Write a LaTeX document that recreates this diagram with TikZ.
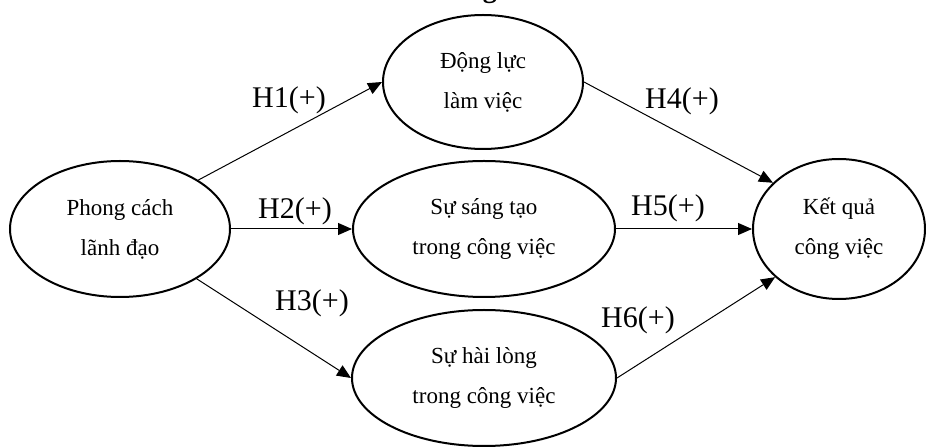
\documentclass[tikz,border=0pt]{standalone}
\usepackage{fontspec}
\setmainfont{Liberation Serif}
\usetikzlibrary{arrows.meta,shapes.geometric}

\begin{document}
\begin{tikzpicture}[x=0.5pt,y=-0.5pt,
	factor/.style={draw, ellipse, line width=1pt, inner sep=0pt, align=center, font=\fontsize{11.5}{20}\selectfont},
	hyp/.style={-{Triangle[length=7pt,width=6pt]}, line width=0.5pt},
	hlabel/.style={font=\fontsize{15}{18}\selectfont, inner sep=0pt}]
		\useasboundingbox (0,0) rectangle (926,448);
		% title, cut off by the page edge
		\node[anchor=base west, inner sep=0pt, font=\bfseries\fontsize{14}{16}\selectfont] (title) at (358,-2) {Mô hình nghiên cứu đề xuất};
		
		\node[factor, minimum width=110pt, minimum height=68pt] (lead) at (120,229) {Phong cách\\lãnh đạo};
		\node[factor, minimum width=100pt, minimum height=67pt] (mot) at (483,82) {Động lực\\làm việc};
		\node[factor, minimum width=131pt, minimum height=68pt] (st) at (484,229) {Sự sáng tạo\\trong công việc};
		\node[factor, minimum width=132pt, minimum height=68pt] (hl) at (484,378) {Sự hài lòng\\trong công việc};
		\node[factor, minimum width=86pt, minimum height=70pt] (kq) at (839,229) {Kết quả\\công việc};
		
		\draw[hyp] (lead.32) -- (mot.west);
		\draw[hyp] (lead.east) -- (st.west);
		\draw[hyp] (lead.-33) -- (hl.west);
		\draw[hyp] (mot.east) -- (kq.145);
		\draw[hyp] (st.east) -- (kq.west);
		\draw[hyp] (hl.east) -- (kq.217);
		
		\node[hlabel] (h1) at (289,100) {H1(+)};
		\node[hlabel] (h2) at (295,211) {H2(+)};
		\node[hlabel] (h3) at (312,303) {H3(+)};
		\node[hlabel] (h4) at (682,101) {H4(+)};
		\node[hlabel] (h5) at (668,208) {H5(+)};
		\node[hlabel] (h6) at (638,320) {H6(+)};
		
	\end{tikzpicture}
\end{document}
